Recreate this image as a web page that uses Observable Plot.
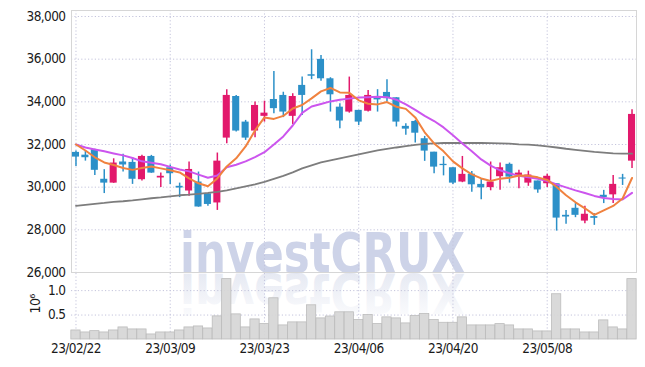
<!DOCTYPE html>
<html><head><meta charset="utf-8">
<script src="https://cdn.jsdelivr.net/npm/d3@7"></script>
<script src="https://cdn.jsdelivr.net/npm/@observablehq/plot@0.6"></script>
<style>
html,body{margin:0;padding:0;background:#fff;}
#wrap{position:relative;width:645px;height:367px;overflow:hidden;}
#wm,#price,#vol{position:absolute;left:0;}
#wm{top:0}
#price{top:0}
#vol{top:272px}
svg text{font-family:"DejaVu Sans Condensed","DejaVu Sans",sans-serif;}
.ax text{letter-spacing:-0.6px;}
</style></head><body>
<div id="wrap">
<svg id="wm" width="645" height="367">
  <defs>
    <linearGradient id="fade" x1="0" y1="0" x2="0" y2="1">
      <stop offset="0" stop-color="#dfe3ef" stop-opacity="0"/>
      <stop offset="1" stop-color="#dfe3ef" stop-opacity="0.95"/>
    </linearGradient>
  </defs>
  <text x="180" y="272" font-family="DejaVu Sans" font-weight="bold" font-size="56" textLength="285" lengthAdjust="spacingAndGlyphs" fill="#cdd3e8">investCRUX</text>
  <g transform="translate(0,546) scale(1,-1)">
    <text x="180" y="272" font-family="DejaVu Sans" font-weight="bold" font-size="56" textLength="285" lengthAdjust="spacingAndGlyphs" fill="url(#fade)">investCRUX</text>
  </g>
</svg>
<div id="price"></div><div id="vol"></div></div>
<script>
const dates = ["23/02/22","23/02/23","23/02/24","23/02/27","23/02/28",
"23/03/02","23/03/03","23/03/06","23/03/07","23/03/08","23/03/09","23/03/10","23/03/13","23/03/14","23/03/15","23/03/16","23/03/17","23/03/20","23/03/21","23/03/22","23/03/23","23/03/24","23/03/27","23/03/28","23/03/29","23/03/30","23/03/31",
"23/04/03","23/04/04","23/04/05","23/04/06","23/04/07","23/04/10","23/04/11","23/04/12","23/04/13","23/04/14","23/04/17","23/04/18","23/04/19","23/04/20","23/04/21","23/04/24","23/04/25","23/04/26","23/04/27","23/04/28",
"23/05/02","23/05/03","23/05/04","23/05/08","23/05/09","23/05/10","23/05/11","23/05/12","23/05/15","23/05/16","23/05/17","23/05/18","23/05/19"];

const open  = [31630,31500,31760,30370,30190,31180,31160,30350,31440,30430,30910,30040,29820,30240,29690,29260,32300,34250,33050,32630,33320,34110,34300,33320,34770,35270,35990,35080,33750,33520,33600,33560,34200,34440,34190,32850,33080,32270,31640,31070,30910,30240,30610,30130,29980,30490,31070,30550,30190,30290,30160,30160,28680,29010,28410,28620,29620,29640,30430,31220];
const high  = [31690,31680,31780,30820,31330,31540,31380,31500,31490,30660,31040,30190,31180,30710,29700,31600,34570,34300,33130,33990,34030,35420,34450,34380,35160,36440,36170,35130,33910,35160,33600,34530,34570,35030,34190,32970,33130,32380,31640,31430,30910,31440,30730,30400,31180,31130,31130,30790,30750,30290,30600,30160,28910,29230,29100,28760,29850,30550,30600,33630];
const low   = [30970,31220,30550,29700,30180,30710,30130,30290,30650,29980,30120,29510,29580,29060,29100,28910,32040,32580,32190,32320,33050,33440,33260,32940,33360,35040,34960,33520,32740,33470,32890,33520,33520,34000,32820,32430,32070,31210,30630,30530,30130,30210,29760,29410,29830,29850,30190,29930,30040,29720,29980,27940,28260,28570,28290,28210,29230,29230,30080,30870];
const close = [31410,31380,30790,30190,31130,31040,30370,31440,30660,30510,30630,29960,30830,29070,29190,31220,34300,32630,32300,33830,33470,33680,33520,34250,34300,35200,35080,34330,33100,34300,33050,34300,34090,34150,33050,32720,32530,31690,30940,31010,30190,30600,30110,29970,30240,30910,30470,30660,30570,29870,30510,28550,28600,28680,28730,28540,29510,30130,30380,33410];
const volume = [0.185,0.144,0.171,0.144,0.185,0.247,0.206,0.206,0.103,0.144,0.144,0.185,0.247,0.267,0.226,0.473,1.235,0.514,0.247,0.411,0.315,0.843,0.288,0.35,0.35,0.70,0.432,0.47,0.556,0.556,0.397,0.5,0.315,0.453,0.432,0.329,0.479,0.521,0.397,0.342,0.342,0.453,0.288,0.288,0.288,0.315,0.288,0.206,0.206,0.165,0.165,0.926,0.206,0.206,0.144,0.144,0.391,0.247,0.206,1.235];
const ma5  = [32000,31720,31400,31160,31040,30900,30810,30900,30970,30880,30790,30690,30410,30180,30040,30410,30970,31350,31910,32660,33270,33200,33340,33690,33850,34160,34490,34650,34440,34420,34070,33910,33880,33990,33770,33670,33270,32570,32050,31680,31210,30880,30600,30410,30290,30400,30440,30550,30530,30460,30340,30010,29620,29290,29010,28700,28910,29120,29470,30430];
const ma20 = [32000,31860,31770,31680,31580,31490,31370,31210,31140,31070,30950,30830,30740,30590,30440,30550,30930,31050,31210,31410,31640,32000,32380,32890,33480,33780,33900,34020,34100,34150,34200,34220,34240,34220,34100,33880,33620,33340,33100,32800,32430,32050,31680,31300,31010,30790,30650,30530,30460,30390,30290,30130,29990,29850,29730,29590,29490,29440,29420,29730];
const ma60 = [29120,29170,29220,29260,29310,29340,29380,29430,29480,29520,29570,29620,29650,29690,29730,29780,29850,29940,30040,30130,30250,30390,30530,30690,30880,31020,31160,31260,31350,31440,31540,31630,31720,31790,31860,31920,31980,32030,32050,32070,32070,32070,32070,32070,32060,32050,32040,32010,31990,31960,31910,31860,31800,31750,31700,31650,31620,31580,31570,31570];
const priceTicks = [26000,28000,30000,32000,34000,36000,38000];
const volTicks = [0.5,1.0];
const xTicks = ["23/02/22","23/03/09","23/03/23","23/04/06","23/04/20","23/05/08"];

const UP = "#e2196c", DOWN = "#2c90c8";
const data = dates.map((d,i)=>({date:d, open:open[i], high:high[i], low:low[i], close:close[i], volume:volume[i], ma5:ma5[i], ma20:ma20[i], ma60:ma60[i]}));
const col = d => d.close >= d.open ? UP : DOWN;
const grid = {stroke:"#c4c4dc", strokeDasharray:"1.2,2.2", strokeWidth:1};
const xScale = {type:"band", domain:dates, paddingInner:0.25, paddingOuter:0.1, round:false};

const price = Plot.plot({
  width:645, height:273, marginLeft:71, marginRight:9, marginTop:10, marginBottom:1,
  style:{fontSize:"13.5px", color:"#1a1a1a", background:"transparent", overflow:"visible"},
  className:"ax",
  x:{...xScale, axis:null},
  y:{domain:[26000,38281], ticks:priceTicks, tickFormat:d3.format(","), tickSize:0, tickPadding:6, label:null},
  color:{type:"identity"},
  marks:[
    Plot.ruleY(priceTicks.slice(1), grid),
    Plot.ruleX(xTicks, grid),
    Plot.ruleY([26000], {stroke:"#c8c8c8"}),
    Plot.frame({stroke:"#d6d6d6"}),
    Plot.ruleX(data, {x:"date", y1:"low", y2:"high", stroke:col, strokeWidth:1.5}),
    Plot.barY(data, {x:"date", y1:"open", y2:"close", fill:col}),
    Plot.lineY(data, {x:"date", y:"ma60", stroke:"#7d7d7d", strokeWidth:1.8}),
    Plot.lineY(data, {x:"date", y:"ma20", stroke:"#cc55ee", strokeWidth:2}),
    Plot.lineY(data, {x:"date", y:"ma5", stroke:"#f0823f", strokeWidth:2})
  ]
});
document.getElementById("price").appendChild(price);

const vol = Plot.plot({
  width:645, height:95, marginLeft:71, marginRight:9, marginTop:1, marginBottom:28,
  style:{fontSize:"13.5px", color:"#1a1a1a", background:"transparent", overflow:"visible"},
  className:"ax",
  x:{...xScale, ticks:xTicks, tickSize:0, tickPadding:4, label:null},
  y:{domain:[0,1.35], ticks:volTicks, tickFormat:d3.format(".1f"), tickSize:0, tickPadding:6, label:null},
  marks:[
    Plot.ruleY(volTicks, grid),
    Plot.ruleX(xTicks, grid),
    Plot.barY(data, {x:"date", y:"volume", fill:"#d6d6d6", fillOpacity:0.92, stroke:"#bcbcbc", strokeWidth:0.8, insetLeft:-1.1, insetRight:-1.1}),
    Plot.text(["10⁶"], {frameAnchor:"top-left", dx:-41, dy:40, rotate:-90, text:d=>d, fontSize:14, fill:"#1a1a1a"})
  ]
});
document.getElementById("vol").appendChild(vol);
</script>
</body></html>
